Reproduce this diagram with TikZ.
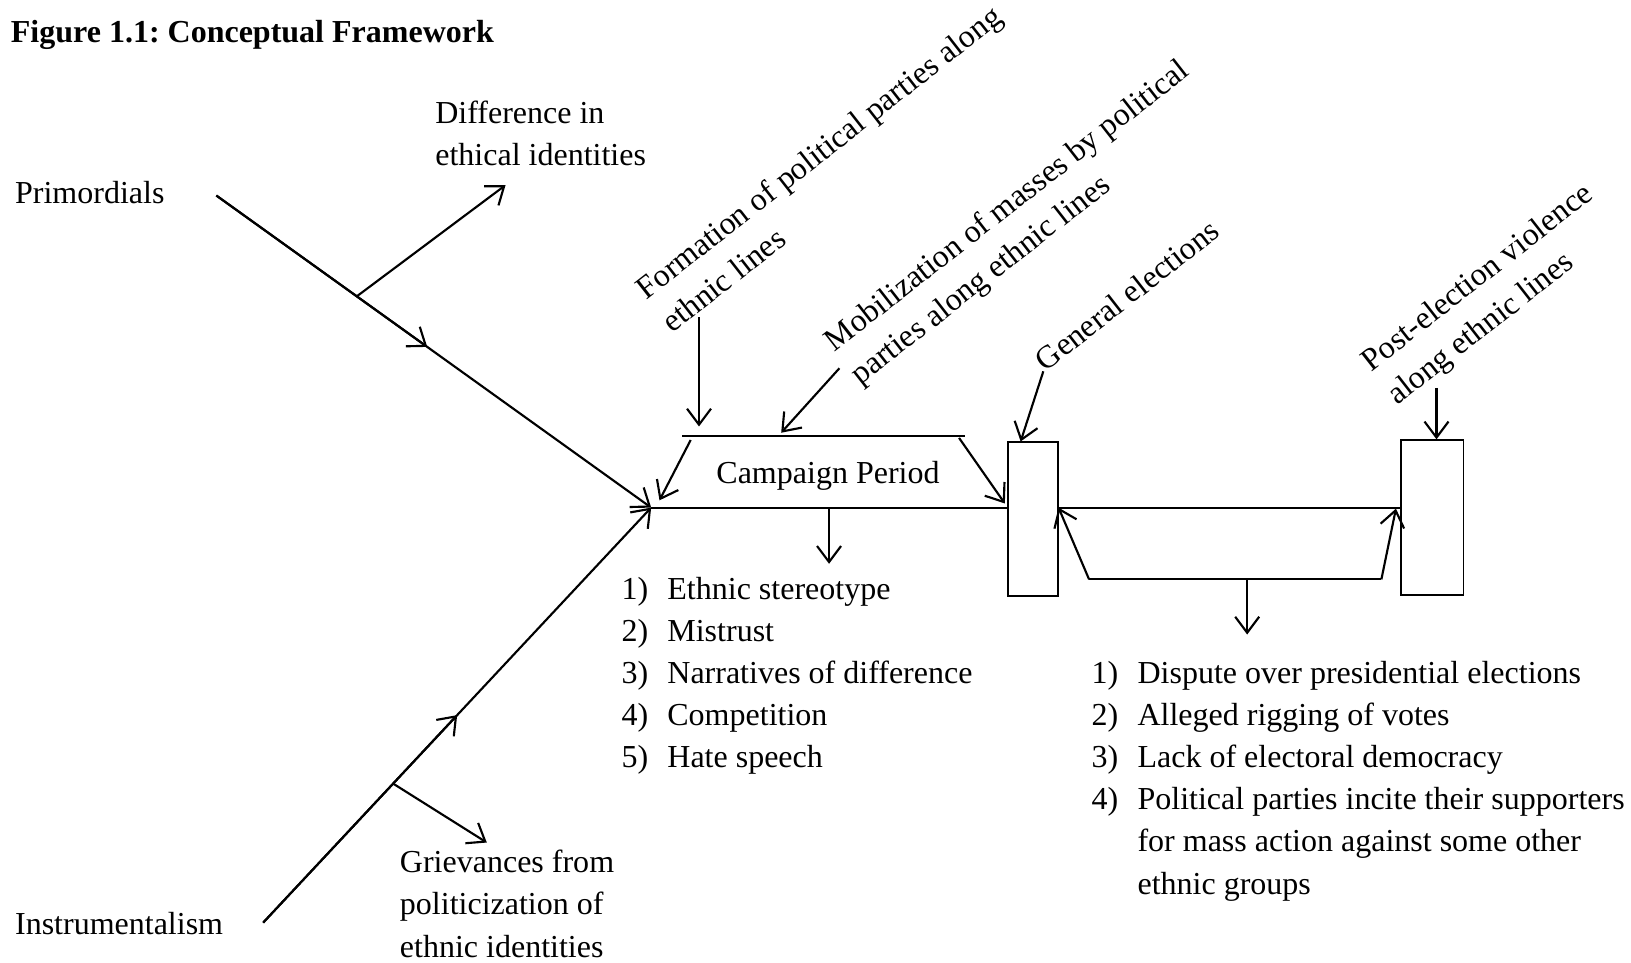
\documentclass[tikz,border=0pt]{standalone}
\usepackage{fontspec}
\setmainfont{Liberation Serif}
\usetikzlibrary{arrows.meta, calc}
\frenchspacing
\newcommand{\normaltext}{\fontsize{12}{15.8}\selectfont}
\newcommand{\textlines}[1]{\begin{tabular}[t]{@{}l@{}}#1\end{tabular}}
\tikzset{
    every node/.style = {font=\normaltext, inner sep=0pt},
    txt/.style = {anchor=base west},
    link/.style = {line width=0.8pt},
    arr/.style = {link, -{Straight Barb[length=6pt, width=9pt]}},
    stagebox/.style = {draw, line width=0.5pt},
    slanted/.style = {txt, rotate=38},
}

\begin{document}
\begin{tikzpicture}[x=0.39pt, y=-0.39pt]
    \useasboundingbox (0,0) rectangle (1568,925);
    % title and the two theories
    \node[txt, font=\normaltext\bfseries] (title) at (10,41) {Figure 1.1: Conceptual Framework};
    \node[txt] (prim) at (14,196) {Primordials};
    \node[txt] (instr) at (14,898) {Instrumentalism};
    \node[txt] (diff) at (418,119) {\textlines{Difference in\\ethical identities}};
    \node[txt] (griev) at (384,839) {\textlines{Grievances from\\politicization of\\ethnic identities}};
    % two lines meeting in the hub, with an arrow half way
    \coordinate (p0) at (208,188);
    \coordinate (i0) at (253,887);
    \coordinate (hub) at (626,488);
    \draw[arr] (p0) -- (hub);
    \draw[arr] (p0) -- ($(p0)!0.485!(hub)$);
    \draw[arr] (i0) -- (hub);
    \draw[arr] (i0) -- ($(i0)!0.5!(hub)$);
    % side branches
    \coordinate (pb) at ($(p0)!0.323!(hub)$);
    \coordinate (ib) at ($(i0)!0.335!(hub)$);
    \coordinate (d1) at (486,178);
    \coordinate (g1) at (468,810);
    \draw[arr] (pb) -- (d1);
    \draw[arr] (ib) -- (g1);
    % boxes for the elections and the violence
    \node[stagebox, minimum width=18.7pt, minimum height=57.7pt] (gen) at (993,499) {};
    \node[stagebox, minimum width=23.4pt, minimum height=58.1pt] (viol) at (1377,497.5) {};
    \draw[link] (hub) -- (hub -| gen.west);
    \draw[link] (gen.east |- hub) -- (hub -| viol.west);
    % campaign period
    \node (camp) at (796,457) {Campaign Period};
    \coordinate (ct1) at (656,419);
    \coordinate (ct2) at (928,419);
    \draw[link] (ct1) -- (ct2);
    \coordinate (cl1) at (664,423);
    \coordinate (cl2) at (634,481);
    \coordinate (cr1) at (922,421);
    \coordinate (cr2) at (966,484);
    \draw[arr] (cl1) -- (cl2);
    \draw[arr] (cr1) -- (cr2);
    \coordinate (cd1) at (797,489);
    \coordinate (cd2) at (797,542);
    \draw[arr] (cd1) -- (cd2);
    % lower link between the boxes
    \coordinate (lo1) at (1047,557);
    \coordinate (lo2) at (1328,557);
    \coordinate (lo3) at (1342,489);
    \draw[link] (lo1) -- (lo2);
    \draw[arr] (lo1) -- (gen.east |- hub);
    \draw[arr] (lo2) -- (lo3);
    \coordinate (ld1) at (1199,557);
    \coordinate (ld2) at (1199,610);
    \draw[arr] (ld1) -- (ld2);
    % slanted labels and their arrows
    \node[slanted] (form) at (621,289) {\textlines{Formation of political parties along\\ethnic lines}};
    \node[slanted] (mob) at (802,339) {\textlines{Mobilization of masses by political\\parties along ethnic lines}};
    \node[slanted] (genl) at (1005,358) {General elections};
    \node[slanted] (post) at (1318,358) {\textlines{Post-election violence\\along ethnic lines}};
    \coordinate (fa) at (672,305);
    \coordinate (fb) at (672,410);
    \coordinate (ma) at (807,354);
    \coordinate (mb) at (751,416);
    \coordinate (ga) at (1003,357);
    \coordinate (pa) at (1381,373);
    \draw[arr] (fa) -- (fb);
    \draw[arr] (ma) -- (mb);
    \draw[arr] (ga) -- ([xshift=5pt]gen.north west);
    \draw[arr] (pa) -- (pa |- viol.north);
    % the two lists
    \node[txt] (list1) at (597,576) {\begin{tabular}[t]{@{}l@{\hspace{7.2pt}}l@{}}
        1) & Ethnic stereotype\\
        2) & Mistrust\\
        3) & Narratives of difference\\
        4) & Competition\\
        5) & Hate speech
    \end{tabular}};
    \node[txt] (list2) at (1049,657) {\begin{tabular}[t]{@{}l@{\hspace{7.2pt}}l@{}}
        1) & Dispute over presidential elections\\
        2) & Alleged rigging of votes\\
        3) & Lack of electoral democracy\\
        4) & Political parties incite their supporters\\
           & for mass action against some other\\
           & ethnic groups
    \end{tabular}};
\end{tikzpicture}
\end{document}
